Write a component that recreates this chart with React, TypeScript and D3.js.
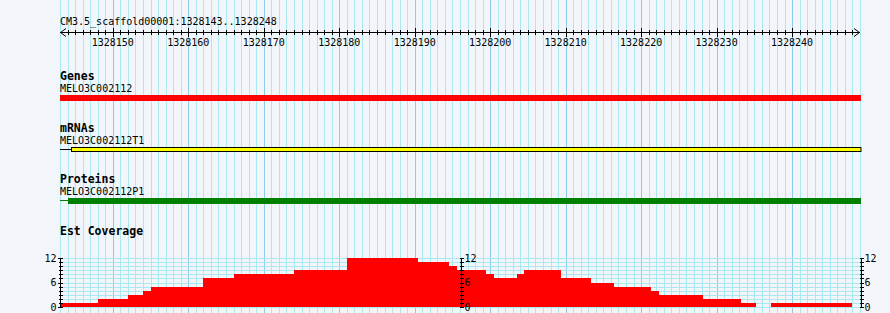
import React from "react";
import * as d3 from "d3";

const W = 890;
const H = 313;

// Region
const regionName = "CM3.5_scaffold00001";
const regionStart = 1328143;
const regionEnd = 1328248;

// Tracks
const trackTitles = ["Genes", "mRNAs", "Proteins", "Est Coverage"];
const featureNames = ["MELO3C002112", "MELO3C002112T1", "MELO3C002112P1"];
// feature extents: [lineStart, boxStart, end]
const geneExtent = [1328143, 1328143, 1328249];
const mrnaExtent = [1328143, 1328144.4, 1328249];
const proteinExtent = [1328143, 1328144.05, 1328249];

// EST coverage (step breaks in genomic coordinates and the values between them)
const covBreaks = [
  1328143, 1328148, 1328152, 1328154, 1328155, 1328162, 1328166, 1328174, 1328181,
  1328190.5, 1328194.5, 1328195.6, 1328199.5, 1328200.5, 1328203.6, 1328204.5,
  1328209.4, 1328213.4, 1328216.4, 1328221.3, 1328222.4, 1328228.2, 1328233.2,
  1328235.2, 1328237.2, 1328248, 1328249,
];
const covValues = [
  1, 2, 3, 4, 5, 7, 8, 9, 12, 11, 10, 9, 8, 7, 8, 9, 7, 6, 5, 4, 3, 2, 1, 0, 1, 0,
];
const covTickLabels = [0, 6, 12];

const MONO = "'DejaVu Sans Mono', monospace";

export default function App() {
  const x = d3.scaleLinear().domain([regionStart, regionEnd + 1]).range([60, 860]);
  const y = d3.scaleLinear().domain([0, 12]).range([307, 258]);

  const gridPos = d3.range(regionStart, regionEnd + 2);
  const minorTicks = d3.range(regionStart + 1, regionEnd + 1);
  const majorTicks = minorTicks.filter((p) => p % 10 === 0);
  const covUnits = d3.range(0, 13);

  const segs = covValues.map((v, i) => ({ s: covBreaks[i], e: covBreaks[i + 1], v }));

  const axisXs = [60, 460.7, 861];

  const minorC = "#a9e9ef";
  const majorC = "#8ccbe9";

  return (
    <svg
      width={W}
      height={H}
      style={{ position: "absolute", left: 0, top: 0, background: "#f2f6fa" }}
      fontFamily={MONO}
    >
      <rect x={0} y={0} width={W} height={H} fill="#f2f6fa" />
      {/* vertical grid */}
      <g shapeRendering="crispEdges">
        {gridPos.map((p) => (
          <line
            key={p}
            x1={Math.round(x(p)) + 0.5}
            x2={Math.round(x(p)) + 0.5}
            y1={0}
            y2={H}
            stroke={p % 10 === 0 ? majorC : minorC}
            strokeWidth={1}
          />
        ))}
        {covUnits.map((u) => (
          <line
            key={"h" + u}
            x1={60}
            x2={861}
            y1={Math.round(y(u)) + 0.5}
            y2={Math.round(y(u)) + 0.5}
            stroke={minorC}
          />
        ))}
      </g>

      {/* ruler */}
      <text x={60} y={25} fontSize={10} fill="#000">
        {`${regionName}:${regionStart}..${regionEnd}`}
      </text>
      <g stroke="#000" shapeRendering="crispEdges">
        <line x1={60} x2={860} y1={32.5} y2={32.5} />
        {minorTicks.map((p) => (
          <line key={p} x1={Math.round(x(p)) + 0.5} x2={Math.round(x(p)) + 0.5} y1={30} y2={35} />
        ))}
        {majorTicks.map((p) => (
          <line key={"M" + p} x1={Math.round(x(p)) + 0.5} x2={Math.round(x(p)) + 0.5} y1={28} y2={37} />
        ))}
      </g>
      <g stroke="#000" fill="none">
        <polyline points={`66,28.5 60.5,32.5 66,36.5`} />
        <polyline points={`854,28.5 859.5,32.5 854,36.5`} />
      </g>
      {majorTicks.map((p) => (
        <text key={"l" + p} x={x(p)} y={46} fontSize={10} textAnchor="middle" fill="#000">
          {p}
        </text>
      ))}

      {/* Genes */}
      <text x={60} y={80} fontSize={11.5} fontWeight="bold">{trackTitles[0]}</text>
      <text x={60} y={92} fontSize={10}>{featureNames[0]}</text>
      <rect
        x={x(geneExtent[1])}
        y={95}
        width={x(geneExtent[2]) - x(geneExtent[1]) + 1}
        height={6}
        fill="#ff0000"
        shapeRendering="crispEdges"
      />

      {/* mRNAs */}
      <text x={60} y={132} fontSize={11.5} fontWeight="bold">{trackTitles[1]}</text>
      <text x={60} y={144} fontSize={10}>{featureNames[1]}</text>
      <line x1={x(mrnaExtent[0])} x2={x(mrnaExtent[1])} y1={149.5} y2={149.5} stroke="#000" shapeRendering="crispEdges" />
      <rect
        x={Math.round(x(mrnaExtent[1])) + 0.5}
        y={147.5}
        width={x(mrnaExtent[2]) - x(mrnaExtent[1])}
        height={4}
        fill="#ffff00"
        stroke="#000"
        strokeWidth={1}
      />

      {/* Proteins */}
      <text x={60} y={183} fontSize={11.5} fontWeight="bold">{trackTitles[2]}</text>
      <text x={60} y={195} fontSize={10}>{featureNames[2]}</text>
      <line x1={x(proteinExtent[0])} x2={x(proteinExtent[1])} y1={200.5} y2={200.5} stroke="#008000" shapeRendering="crispEdges" />
      <rect
        x={x(proteinExtent[1])}
        y={198}
        width={x(proteinExtent[2]) - x(proteinExtent[1]) + 1}
        height={6}
        fill="#008000"
        shapeRendering="crispEdges"
      />

      {/* Est Coverage */}
      <text x={60} y={235} fontSize={11.5} fontWeight="bold">{trackTitles[3]}</text>
      <g shapeRendering="crispEdges">
        {segs
          .filter((d) => d.v > 0)
          .map((d, i) => (
            <rect
              key={i}
              x={x(d.s)}
              y={y(d.v)}
              width={x(d.e) - x(d.s)}
              height={y(0) - y(d.v)}
              fill="#ff0000"
            />
          ))}
      </g>
      {axisXs.map((ax, k) => {
        const axR = Math.round(ax) + 0.5;
        return (
          <g key={"ax" + k}>
            <g stroke="#000" shapeRendering="crispEdges">
              <line x1={axR} x2={axR} y1={Math.round(y(12))} y2={Math.round(y(0)) + 1} />
              {covUnits.map((u) => (
                <line
                  key={u}
                  x1={axR - (u % 6 === 0 && k === 0 ? 3 : 2)}
                  x2={axR + 2}
                  y1={Math.round(y(u)) + 0.5}
                  y2={Math.round(y(u)) + 0.5}
                />
              ))}
            </g>
            {covTickLabels.map((t) => (
              <text
                key={t}
                x={k === 0 ? axR - 4 : axR + 3}
                y={y(t)}
                dy="0.35em"
                fontSize={10}
                textAnchor={k === 0 ? "end" : "start"}
                fill="#000"
              >
                {t}
              </text>
            ))}
          </g>
        );
      })}
    </svg>
  );
}
